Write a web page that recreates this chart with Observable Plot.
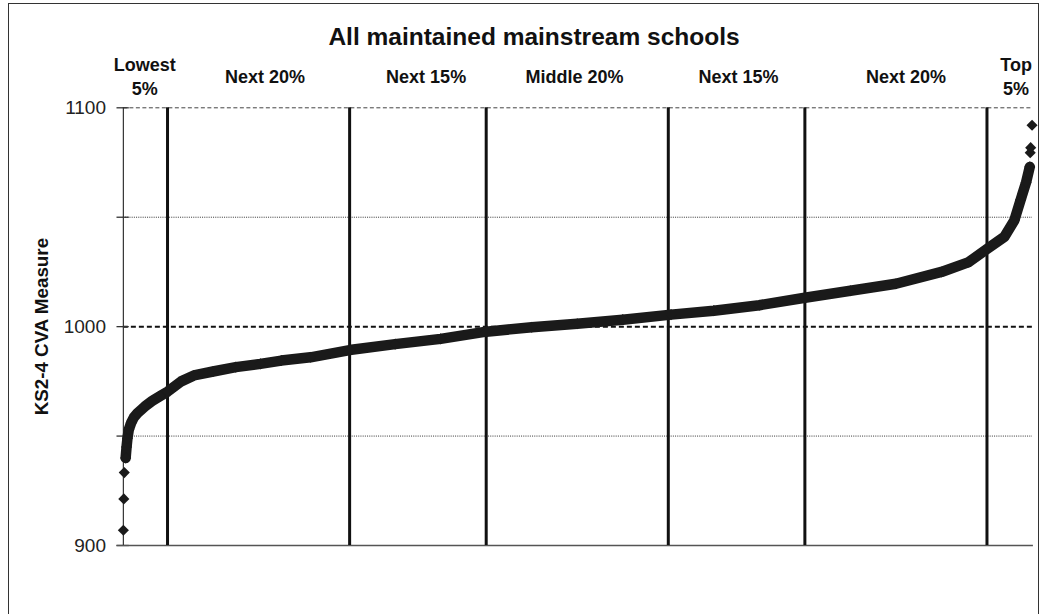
<!DOCTYPE html>
<html>
<head>
<meta charset="utf-8">
<script src="https://cdn.jsdelivr.net/npm/d3@7"></script>
<script src="https://cdn.jsdelivr.net/npm/@observablehq/plot@0.6"></script>
<style>
  html, body { margin: 0; padding: 0; overflow: hidden; background: #fff; }
  #wrap { position: relative; width: 1045px; height: 614px; font-family: "Liberation Sans", Arial, sans-serif; }
  #border { position: absolute; left: 8px; top: 3px; width: 1031px; height: 660px; border: 1.5px solid #333; box-sizing: border-box; }
  #title { position: absolute; left: 0; top: 25px; width: 1068px; text-align: center; font-size: 24.5px; line-height: 24px; font-weight: bold; color: #111; }
  #chart { position: absolute; left: 0; top: 0; }
</style>
</head>
<body>
<div id="wrap">
  <div id="border"></div>
  <div id="chart"></div>
  <div id="title">All maintained mainstream schools</div>
</div>
<script>
// Sorted school CVA values read at percentile positions (percent of schools)
const curvePct = [0.4, 0.5, 0.6, 0.75, 1.0, 1.3, 1.7, 2.5, 3.3, 4.2, 5, 6.5, 7.9, 10, 12.5, 15.2, 17.5, 20.7, 25, 30, 35, 40, 45, 50, 55, 60.3, 65, 70, 75, 80, 85, 90, 93, 95, 96.9, 98, 98.7, 99.3, 99.7];
const curveVal = [940, 945, 949, 953, 956, 958.5, 960.5, 963.5, 966, 968.3, 970.3, 975, 977.7, 979.5, 981.5, 983, 984.5, 986, 989.3, 992, 994.4, 997.7, 999.7, 1001.3, 1003.2, 1005.5, 1007.3, 1009.8, 1013.2, 1016.4, 1019.6, 1025, 1029.5, 1035.5, 1041, 1048.5, 1058, 1066, 1073];
// Isolated extreme schools
const outPct = [0.15, 0.2, 0.25, 99.75, 99.8, 99.95];
const outVal = [907, 921.3, 933.3, 1079.5, 1081.8, 1092];

// Band boundaries (percentiles) and band labels
const cutPct = [5, 25, 40, 60, 75, 95];
const segLabels = ["Lowest\n5%", "Next 20%", "Next 15%", "Middle 20%", "Next 15%", "Next 20%", "Top\n5%"];
const segPos = [2.5, 15.7, 33.4, 49.7, 67.7, 86.1, 98.2];

// Y axis
const yTickLabels = [900, 1000, 1100];
const yTickMarks = [900, 950, 1000, 1050, 1100];
const yDotted = [950, 1050];
const yDashed = [1100];
const yRef = [1000];
const yBase = [900];
const yLabel = "KS2-4 CVA Measure";

const curve = curvePct.map((p, i) => ({p, v: curveVal[i]}));
const outliers = outPct.map((p, i) => ({p, v: outVal[i]}));
const segs = segLabels.map((t, i) => ({t, p: segPos[i]}));
const segs1 = segs.filter(d => !d.t.includes("\n"));
const segs2 = segs.filter(d => d.t.includes("\n"));

const font = "Liberation Sans, Arial, sans-serif";

const chart = Plot.plot({
  width: 1045,
  height: 614,
  marginLeft: 121.5,
  marginRight: 13,
  marginTop: 107.3,
  marginBottom: 69,
  style: {fontFamily: font, background: "transparent", overflow: "visible"},
  x: {domain: [0, 100], axis: null},
  y: {domain: [900, 1100], axis: null},
  marks: [
    Plot.ruleY(yDotted, {x1: 0.15, x2: 100, stroke: "#333", strokeWidth: 1, strokeDasharray: "1,1.2"}),
    Plot.ruleY(yDashed, {x1: 0.15, x2: 100, stroke: "#444", strokeWidth: 1, strokeDasharray: "4,2.5"}),
    Plot.ruleY(yRef, {x1: 0.15, x2: 100, stroke: "#111", strokeWidth: 2, strokeDasharray: "5,3"}),
    Plot.ruleY(yTickMarks, {x1: -0.55, x2: 0.8, stroke: "#333", strokeWidth: 1.3}),
    Plot.ruleY(yBase, {x1: -0.55, x2: 100.1, stroke: "#555", strokeWidth: 1.7}),
    Plot.ruleX([0.15], {y1: 900, y2: 1100, stroke: "#333", strokeWidth: 1.2}),
    Plot.ruleX(cutPct, {y1: 900, y2: 1100, stroke: "#111", strokeWidth: 3}),
    Plot.line(curve, {x: "p", y: "v", stroke: "#1a1a1a", strokeWidth: 10.5, strokeLinejoin: "round", strokeLinecap: "round"}),
    Plot.dot(curve, {x: "p", y: "v", symbol: "diamond2", r: 5, fill: "#1a1a1a", stroke: "none"}),
    Plot.dot(outliers, {x: "p", y: "v", symbol: "diamond2", r: 5, fill: "#1a1a1a", stroke: "none"}),
    Plot.text(yTickLabels, {frameAnchor: "left", y: d => d, text: d => String(d), dx: -16, textAnchor: "end", fontSize: 19, fill: "#222"}),
    Plot.text([yLabel], {frameAnchor: "left", dx: -80, rotate: -90, textAnchor: "middle", text: d => d, fontSize: 18.8, fontWeight: "bold", fill: "#111"}),
    Plot.text(segs1, {x: "p", frameAnchor: "top", text: "t", lineAnchor: "top", dy: -37.5, fontSize: 18, fontWeight: "bold", fill: "#111"}),
    Plot.text(segs2, {x: "p", frameAnchor: "top", text: "t", lineAnchor: "top", dy: -53.5, lineHeight: 1.33, fontSize: 18, fontWeight: "bold", fill: "#111"})
  ]
});
document.getElementById("chart").appendChild(chart);
</script>
</body>
</html>
